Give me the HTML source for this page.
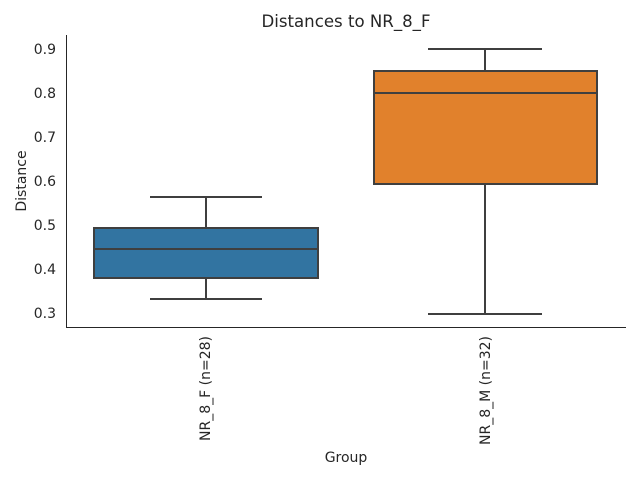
<!DOCTYPE html>
<html><head><style>body{margin:0;background:#fff}svg{display:block}</style></head><body>
<svg width="640" height="480" xmlns="http://www.w3.org/2000/svg" font-family="'DejaVu Sans', 'Liberation Sans', sans-serif" fill="#262626">
<rect width="640" height="480" fill="#fff"/>
<text x="346" y="27" font-size="16.6" text-anchor="middle">Distances to NR_8_F</text>
<g font-size="14" text-anchor="end">
<text x="56" y="54">0.9</text><text x="56" y="98">0.8</text><text x="56" y="142">0.7</text>
<text x="56" y="186">0.6</text><text x="56" y="230">0.5</text><text x="56" y="274">0.4</text><text x="56" y="318">0.3</text>
</g>
<text transform="translate(26,181) rotate(-90)" font-size="14" text-anchor="middle">Distance</text>
<text x="346" y="462" font-size="14" text-anchor="middle">Group</text>
<text transform="translate(210,336) rotate(-90)" font-size="14" text-anchor="end">NR_8_F (n=28)</text>
<text transform="translate(490,336) rotate(-90)" font-size="14" text-anchor="end">NR_8_M (n=32)</text>
<g stroke="#3f3f3f" stroke-width="2" fill="none">
<line x1="206" y1="197" x2="206" y2="228"/><line x1="206" y1="278" x2="206" y2="299"/>
<line x1="150" y1="197" x2="262" y2="197"/><line x1="150" y1="299" x2="262" y2="299"/>
<rect x="94" y="228" width="224" height="50" fill="#3274a1"/>
<line x1="94" y1="249" x2="318" y2="249"/>
<line x1="485" y1="49" x2="485" y2="71"/><line x1="485" y1="184" x2="485" y2="314"/>
<line x1="428" y1="49" x2="542" y2="49"/><line x1="428" y1="314" x2="542" y2="314"/>
<rect x="374" y="71" width="223" height="113" fill="#e1812c"/>
<line x1="374" y1="93" x2="597" y2="93"/>
</g>
<g stroke="#262626" stroke-width="1">
<line x1="66.5" y1="35" x2="66.5" y2="327"/><line x1="66" y1="327.5" x2="626" y2="327.5"/>
</g>
</svg>
</body></html>
